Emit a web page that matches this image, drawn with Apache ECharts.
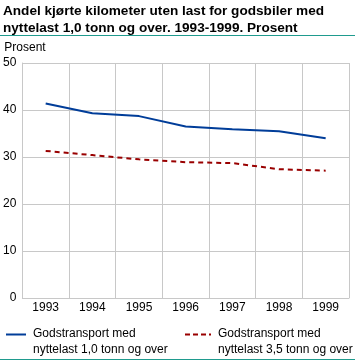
<!DOCTYPE html>
<html><head><meta charset="utf-8">
<script src="https://cdn.jsdelivr.net/npm/echarts@6/dist/echarts.min.js"></script>
<style>html,body{margin:0;padding:0;background:#fff}#c{width:355px;height:361px}</style>
</head><body><div id="c"></div>
<script>
var years = ['1993','1994','1995','1996','1997','1998','1999'];
var gods10 = [41.4, 39.3, 38.7, 36.5, 35.9, 35.5, 34.0];
var gods35 = [31.3, 30.4, 29.5, 28.9, 28.7, 27.4, 27.1];
var seriesNames = ['Godstransport med\nnyttelast 1,0 tonn og over', 'Godstransport med\nnyttelast 3,5 tonn og over'];
var titleText = 'Andel kjørte kilometer uten last for godsbiler med\nnyttelast 1,0 tonn og over. 1993-1999. Prosent';
var font = 'Liberation Sans';
var chart = echarts.init(document.getElementById('c'));
chart.setOption({
  animation: false,
  textStyle: {fontFamily: font},
  title: {text: titleText, left: 1, top: 1, padding: [2,2,2,2], textStyle: {fontFamily: font, fontSize: 13.6, fontWeight: 'bold', color: '#000', lineHeight: 17}},
  grid: {left: 20, right: 6, top: 63, bottom: 63, containLabel: false},
  xAxis: {type: 'category', data: years, boundaryGap: true,
    axisLine: {show: true, lineStyle: {color: '#c8c8c8', width: 1}},
    axisTick: {show: false},
    splitLine: {show: true, lineStyle: {color: '#c8c8c8', width: 1}},
    axisLabel: {color: '#000', fontSize: 12, fontFamily: font, margin: 4, interval: 0}},
  yAxis: {type: 'value', min: 0, max: 50, interval: 10, name: 'Prosent', nameLocation: 'end',
    nameGap: 9, nameTextStyle: {color: '#000', fontSize: 12, fontFamily: font, align: 'left', padding: [0,0,0,-18]},
    axisLine: {show: true, lineStyle: {color: '#c8c8c8'}},
    axisTick: {show: false},
    splitLine: {show: true, lineStyle: {color: '#c8c8c8', width: 1}},
    axisLabel: {color: '#000', fontSize: 12, fontFamily: font, margin: 6}},
  series: [
    {name: seriesNames[0], type: 'line', data: gods10, symbol: 'none', lineStyle: {color: '#003d99', width: 2}},
    {name: seriesNames[1], type: 'line', data: gods35, symbol: 'none', lineStyle: {color: '#990000', width: 2, type: [5,4]}}
  ],
  graphic: [
    {type: 'line', shape: {x1: 0, y1: 35.5, x2: 355, y2: 35.5}, style: {stroke: '#1f9b8e', lineWidth: 1}},
    {type: 'line', shape: {x1: 0, y1: 359.5, x2: 355, y2: 359.5}, style: {stroke: '#1f9b8e', lineWidth: 1}},
    {type: 'line', shape: {x1: 6, y1: 334.5, x2: 26, y2: 334.5}, style: {stroke: '#003d99', lineWidth: 2}},
    {type: 'text', left: 33, top: 326, style: {text: seriesNames[0], font: '12px ' + font, fill: '#000', lineHeight: 16}},
    {type: 'line', shape: {x1: 185, y1: 334.5, x2: 211, y2: 334.5}, style: {stroke: '#990000', lineWidth: 2, lineDash: [5,3]}},
    {type: 'text', left: 218, top: 326, style: {text: seriesNames[1], font: '12px ' + font, fill: '#000', lineHeight: 16}}
  ]
});
</script></body></html>
